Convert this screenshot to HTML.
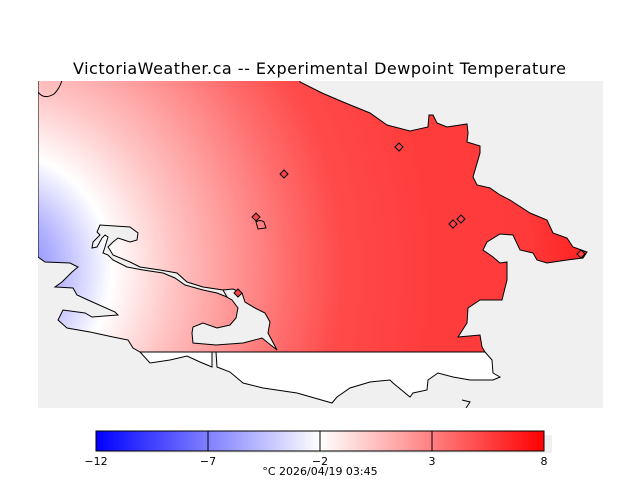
<!DOCTYPE html>
<html><head><meta charset="utf-8"><style>
html,body{margin:0;padding:0;background:#fff;width:640px;height:480px;overflow:hidden}
svg{display:block}
text{font-family:"DejaVu Sans","Liberation Sans",sans-serif;fill:#000}
</style></head><body>
<svg width="640" height="480" viewBox="0 0 640 480" xmlns="http://www.w3.org/2000/svg">
<defs>
<radialGradient id="fld" gradientUnits="userSpaceOnUse" cx="0" cy="270" r="620" gradientTransform="translate(0,270) scale(1,1.05) translate(0,-270)">
<stop offset="0" stop-color="#7070ff"/>
<stop offset="0.09" stop-color="#b0b0ff"/>
<stop offset="0.18" stop-color="#ffffff"/>
<stop offset="0.28" stop-color="#ffc4c4"/>
<stop offset="0.38" stop-color="#ff9494"/>
<stop offset="0.47" stop-color="#ff6a6a"/>
<stop offset="0.55" stop-color="#ff4a4a"/>
<stop offset="0.7" stop-color="#ff3c3c"/>
<stop offset="0.85" stop-color="#ff3a3a"/>
<stop offset="1" stop-color="#ff1414"/>
</radialGradient>
<linearGradient id="cb" x1="0" x2="1" y1="0" y2="0">
<stop offset="0" stop-color="#0000ff"/>
<stop offset="0.5" stop-color="#ffffff"/>
<stop offset="1" stop-color="#ff0000"/>
</linearGradient>
<clipPath id="mc"><rect x="38" y="81" width="565" height="327"/></clipPath>
</defs>
<text x="73" y="74" font-size="16" textLength="493" lengthAdjust="spacing">VictoriaWeather.ca -- Experimental Dewpoint Temperature</text>
<rect x="38" y="81" width="565" height="327" fill="#f0f0f0"/>
<g clip-path="url(#mc)" stroke="#000" stroke-width="1">
<polygon fill="url(#fld)" points="38,78 300,78 300,82 322,93 343,102 370,113 387,125 410,131 428,127 429,115 433,115 437,123 447,127 467,124 468,133 467,142 480,146 480,153 473,177 477,185 490,188 500,195 510,200 530,213 547,220 553,233 567,238 573,247 587,252 583,258 567,260 547,263 537,260 533,253 520,250 513,235 500,234 487,242 483,250 493,257 500,263 507,262 507,280 502,300 480,300 468,308 467,323 458,337 480,335 482,347 485,352 140,352 133,348 128,340 113,337 90,332 67,328 58,320 63,310 85,313 92,317 118,315 115,312 88,300 77,295 73,288 55,287 62,282 72,272 78,267 70,263 45,262 38,257"/>
<polygon fill="#fff" points="140,352 485,352 492,360 493,373 500,377 493,380 470,380 453,377 438,373 428,380 427,390 413,393 410,397 393,383 390,380 370,382 350,388 337,397 332,403 297,393 263,388 243,383 230,372 217,367 216,352 212,352 212,367 200,362 187,356 170,360 150,363"/>
<polygon fill="#f0f0f0" points="223,290 233,289 242,293 245,302 255,308 265,313 270,322 268,333 277,350 262,338 243,343 216,345 193,343 192,333 193,327 203,323 217,328 230,325 236,318 238,308 232,300 225,296"/>
<polygon fill="#f0f0f0" points="227,297 217,293 203,290 185,285 175,278 163,273 143,270 127,267 113,260 108,255 103,253 105,247 108,237 105,235 102,238 97,247 92,248 93,242 100,235 97,232 100,225 130,227 138,233 137,240 130,242 118,238 113,242 108,247 110,250 113,255 130,262 140,267 160,270 177,273 187,282 203,287 223,290"/>
<path d="M38,92 Q44,100 54,94 Q60,88 62,80" fill="none"/>
<path d="M462,400 L470,402 L466,408" fill="none"/>
<path d="M256,222 Q260,219 264,222 L266,228 L258,229 Z" fill="none"/>
</g>
<g stroke="#000" stroke-width="1" fill="#ff4444">
<polygon points="284,170 288,174 284,178 280,174"/>
<polygon points="399,143 403,147 399,151 395,147"/>
<polygon points="256,213 260,217 256,221 252,217"/>
<polygon points="453,220 457,224 453,228 449,224"/>
<polygon points="461,215 465,219 461,223 457,219"/>
<polygon points="581,250 585,254 581,258 577,254"/>
<polygon points="238,289 242,293 238,297 234,293"/>
</g>
<rect x="100" y="435" width="452" height="18" fill="#f0f0f0"/>
<rect x="96" y="431" width="448" height="20" fill="url(#cb)" stroke="#000" stroke-width="1"/>
<g stroke="#000" stroke-width="1">
<line x1="208" y1="431" x2="208" y2="451"/>
<line x1="320" y1="431" x2="320" y2="451"/>
<line x1="432" y1="431" x2="432" y2="451"/>
</g>
<g font-size="11" text-anchor="middle">
<text x="96" y="465">−12</text>
<text x="208" y="465">−7</text>
<text x="320" y="465">−2</text>
<text x="432" y="465">3</text>
<text x="544" y="465">8</text>
<text x="320" y="475">°C  2026/04/19 03:45</text>
</g>
</svg>
</body></html>
